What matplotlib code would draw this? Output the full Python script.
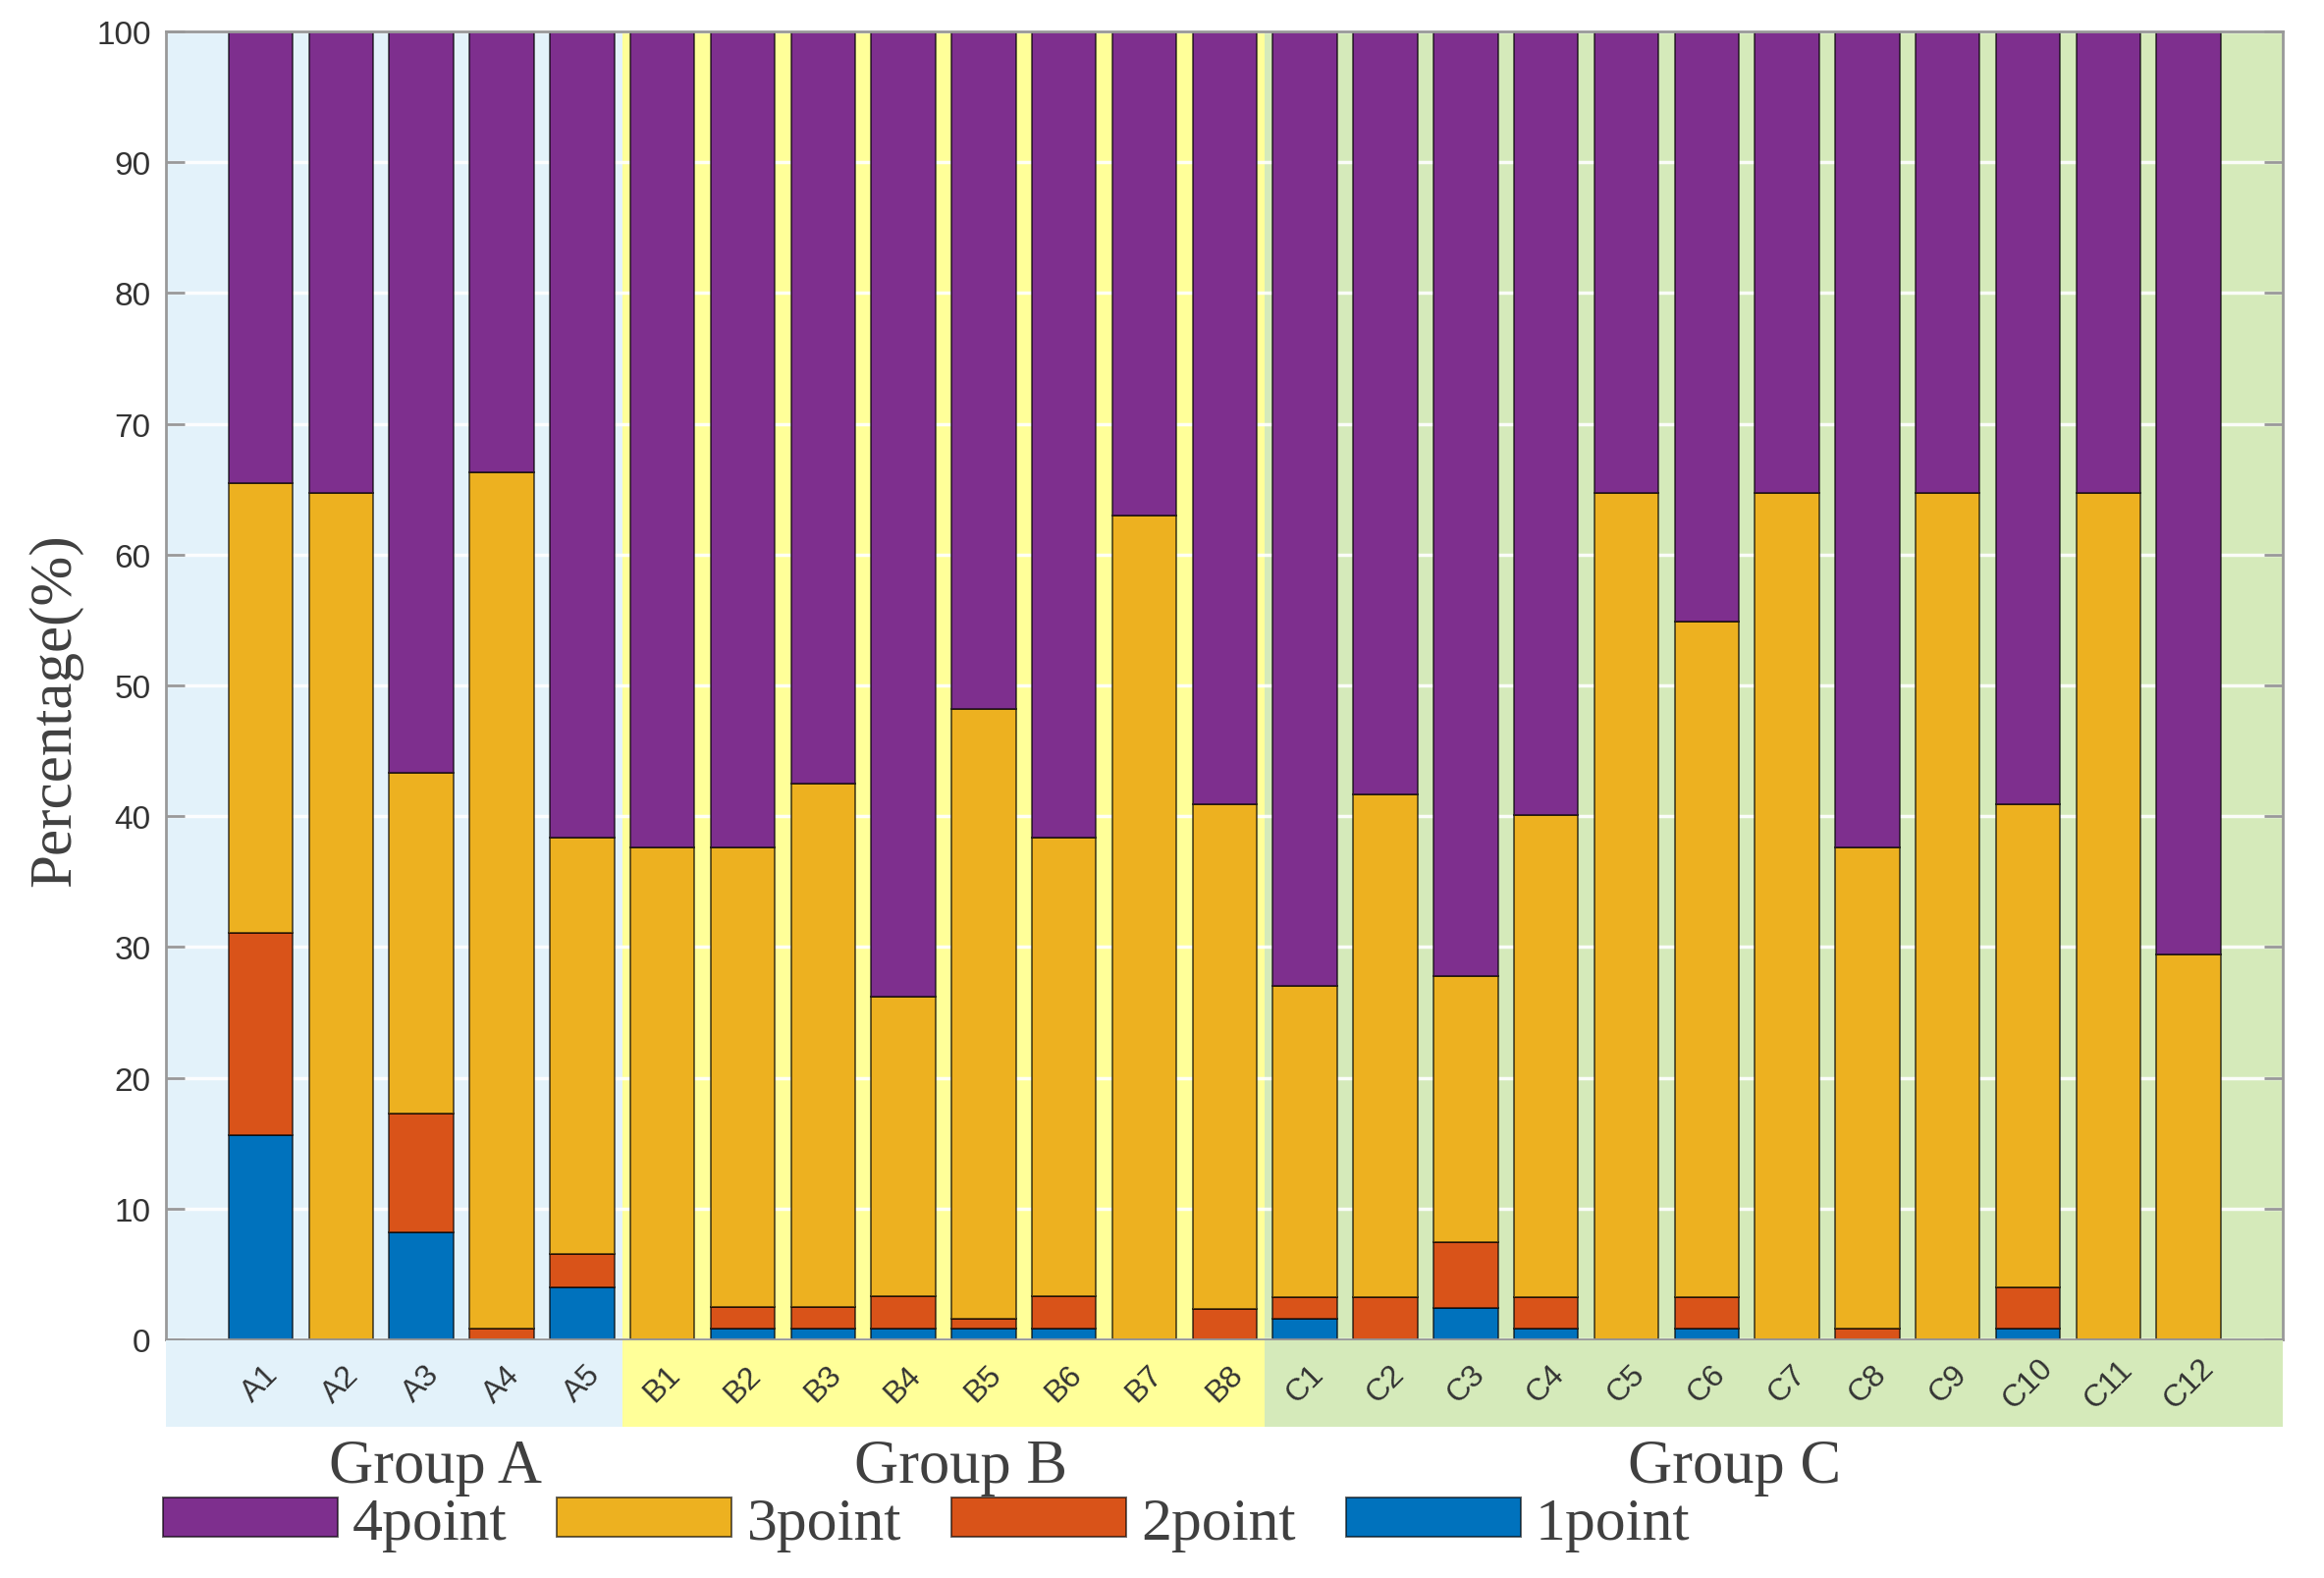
import numpy as np
import matplotlib.pyplot as plt

# data (percent of each score level per item)
labels = ['A1', 'A2', 'A3', 'A4', 'A5',
          'B1', 'B2', 'B3', 'B4', 'B5', 'B6', 'B7', 'B8',
          'C1', 'C2', 'C3', 'C4', 'C5', 'C6', 'C7', 'C8', 'C9', 'C10', 'C11', 'C12']
groups = ['Group A', 'Group B', 'Group C']
group_sizes = [5, 8, 12]

p1 = [15.6, 0, 8.2, 0, 4.0, 0, 0.8, 0.8, 0.8, 0.8, 0.8, 0, 0,
      1.6, 0, 2.4, 0.8, 0, 0.8, 0, 0, 0, 0.8, 0, 0]
p2 = [15.5, 0, 9.1, 0.8, 2.5, 0, 1.7, 1.7, 2.5, 0.8, 2.5, 0, 2.3,
      1.6, 3.2, 5.0, 2.4, 0, 2.4, 0, 0.8, 0, 3.2, 0, 0]
p3 = [34.4, 64.7, 26.0, 65.5, 31.9, 37.6, 35.1, 40.0, 22.9, 46.6, 35.1, 63.0, 38.6,
      23.8, 38.5, 20.4, 36.9, 64.7, 51.7, 64.7, 36.8, 64.7, 36.9, 64.7, 29.4]
p4 = [34.5, 35.3, 56.7, 33.7, 61.6, 62.4, 62.4, 57.5, 73.8, 51.8, 61.6, 37.0, 59.1,
      73.0, 58.3, 72.2, 59.9, 35.3, 45.1, 35.3, 62.4, 35.3, 59.1, 35.3, 70.6]

series = [('1point', p1, '#0072BD'), ('2point', p2, '#D95319'),
          ('3point', p3, '#EDB120'), ('4point', p4, '#7E2F8E')]
bg_colors = ['#E3F2FA', '#FFFF99', '#D5EABA']

serif = ['Liberation Serif', 'DejaVu Serif']
sans = ['Liberation Sans', 'DejaVu Sans']

x = np.arange(1, len(labels) + 1)
xlim = (-0.18, 26.17)

fig = plt.figure(figsize=(23.67, 16.08), dpi=100)
ax = fig.add_axes([0.0714, 0.1511, 0.9108, 0.8284])
band = fig.add_axes([0.0714, 0.0958, 0.9108, 0.0547])

# group backgrounds
edges = np.concatenate([[0], np.cumsum(group_sizes)]) + 0.5
spans = [(xlim[0], edges[1]), (edges[1], edges[2]), (edges[2], xlim[1])]
for (a, b), c in zip(spans, bg_colors):
    ax.axvspan(a, b, color=c, lw=0, zorder=0)
    band.axvspan(a, b, color=c, lw=0, zorder=0)

bottom = np.zeros(len(labels))
handles = {}
for name, vals, col in series:
    vals = np.array(vals)
    h = ax.bar(x, vals, width=0.8, bottom=bottom, color=col,
               edgecolor=(0, 0, 0, 0.6), linewidth=1.4, zorder=2)
    handles[name] = h
    bottom += vals

ax.set_xlim(*xlim)
ax.set_ylim(0, 100)
ax.set_yticks(np.arange(0, 101, 10))
ax.set_xticks(x)
ax.set_xticklabels([])
ax.yaxis.grid(True, color='white', lw=2.5, alpha=0.9)
ax.set_axisbelow(True)
ax.tick_params(axis='y', direction='in', length=14, width=2, color='#999999',
               left=True, right=True, labelsize=24, labelcolor='#333333', pad=11)
ax.tick_params(axis='x', direction='in', length=10, width=1.5, color='#333333',
               bottom=True, top=True, zorder=5)
for lab in ax.get_yticklabels():
    lab.set_family(sans)
for s in ax.spines.values():
    s.set_color('#999999')
    s.set_linewidth(2)
    s.set_zorder(6)

band.set_xlim(*xlim)
band.set_ylim(0, 1)
band.axis('off')
for xi, lab in zip(x, labels):
    band.text(xi, 0.5, lab, rotation=45, ha='center', va='center',
              fontsize=23, color='#333333', family=sans)

# group captions, nudged to where they sit in the reference
nudge = [0.17, 0.22, -0.15]
starts = np.concatenate([[0], np.cumsum(group_sizes)[:-1]])
for g, st, n, dx in zip(groups, starts, group_sizes, nudge):
    gx = x[st:st + n].mean() + dx
    xf = ax.transData.transform((gx, 0))[0] / fig.bbox.width
    fig.text(xf, 0.0705, g, ha='center', va='center', fontsize=45,
             family=serif, color='#404040')

fig.text(0.024, 0.55, 'Percentage(%)', rotation=90, ha='center', va='center',
         fontsize=44, family=serif, color='#404040')

order = ['4point', '3point', '2point', '1point']
leg = fig.legend([handles[o] for o in order], order, loc='center left',
                 bbox_to_anchor=(0.070, 0.034), ncol=4, frameon=False,
                 prop={'family': serif, 'size': 44.5}, handlelength=2.88,
                 handleheight=0.62, handletextpad=0.25, columnspacing=0.82,
                 borderpad=0, borderaxespad=0)
for t in leg.get_texts():
    t.set_color('#404040')

fig.savefig('out.png', dpi=100)
